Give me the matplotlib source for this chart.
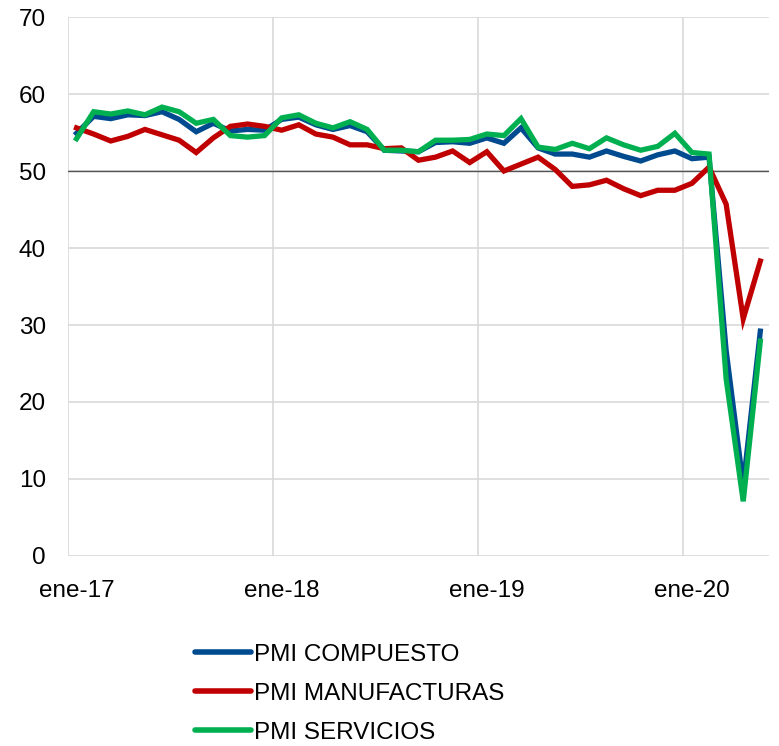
import matplotlib
matplotlib.use("Agg")
import matplotlib.pyplot as plt

# Meses ene-17 .. may-20
months = list(range(41))
tick_pos = [0, 12, 24, 36]
tick_labels = ["ene-17", "ene-18", "ene-19", "ene-20"]

pmi_compuesto = [
    54.9, 57.1, 56.8, 57.3, 57.2, 57.7, 56.7, 55.1, 56.2, 55.2, 55.4, 55.3,
    56.7, 57.0, 56.0, 55.4, 55.9, 55.1, 52.7, 52.6, 52.5, 53.7, 53.8, 53.6,
    54.3, 53.6, 55.6, 53.0, 52.2, 52.2, 51.8, 52.6, 51.9, 51.3, 52.1, 52.6,
    51.6, 51.8, 26.7, 9.2, 29.2,
]
pmi_manufacturas = [
    55.6, 54.8, 53.9, 54.5, 55.4, 54.7, 54.0, 52.4, 54.3, 55.8, 56.1, 55.8,
    55.3, 56.0, 54.8, 54.4, 53.4, 53.4, 52.9, 53.0, 51.4, 51.8, 52.6, 51.1,
    52.5, 50.0, 50.9, 51.8, 50.2, 48.0, 48.2, 48.8, 47.7, 46.8, 47.5, 47.5,
    48.4, 50.5, 45.7, 30.8, 38.3,
]
pmi_servicios = [
    54.2, 57.7, 57.4, 57.8, 57.3, 58.3, 57.7, 56.2, 56.7, 54.6, 54.4, 54.6,
    56.9, 57.3, 56.2, 55.6, 56.4, 55.4, 52.7, 52.7, 52.5, 54.0, 54.0, 54.1,
    54.8, 54.6, 56.8, 53.1, 52.8, 53.6, 52.9, 54.3, 53.4, 52.7, 53.2, 54.9,
    52.4, 52.2, 23.0, 7.1, 27.9,
]

plt.rcParams["font.family"] = ["Liberation Sans", "DejaVu Sans"]

fig = plt.figure(figsize=(7.79, 7.46), dpi=100)
ax = fig.add_axes([0.0873, 0.2547, 0.8997, 0.7225])

ax.plot(months, pmi_compuesto, color="#004A8F", lw=3.8, label="PMI COMPUESTO",
        solid_joinstyle="miter", zorder=3)
ax.plot(months, pmi_manufacturas, color="#C00000", lw=3.8, label="PMI MANUFACTURAS",
        solid_joinstyle="miter", zorder=4)
ax.plot(months, pmi_servicios, color="#00B050", lw=3.8, label="PMI SERVICIOS",
        solid_joinstyle="miter", zorder=5)

ax.axhline(50, color="#555555", lw=1.0, zorder=2)

ax.set_xlim(-0.5, 40.5)
ax.set_ylim(0, 70)
ax.set_yticks(range(0, 71, 10))
ax.set_xticks(tick_pos)
ax.set_xticklabels(tick_labels)
ax.set_xticks([p - 0.5 for p in tick_pos], minor=True)

ax.grid(axis="y", color="#d9d9d9", lw=1.2)
ax.grid(axis="x", which="minor", color="#d9d9d9", lw=1.2)
ax.grid(axis="x", which="major", visible=False)
for s in ax.spines.values():
    s.set_visible(False)
ax.tick_params(axis="both", which="both", length=0, labelsize=17.5, colors="#000000")
ax.tick_params(axis="y", pad=16)
ax.tick_params(axis="x", pad=17)

leg = fig.legend(loc="upper left", bbox_to_anchor=(0.25, 0.137), frameon=False,
                 fontsize=17.5, handlelength=2.3, handletextpad=0.15,
                 labelspacing=0.7, borderaxespad=0, borderpad=0)
for h in leg.get_lines():
    h.set_linewidth(4)
    h.set_solid_capstyle("round")

fig.savefig("out.png", dpi=100)
